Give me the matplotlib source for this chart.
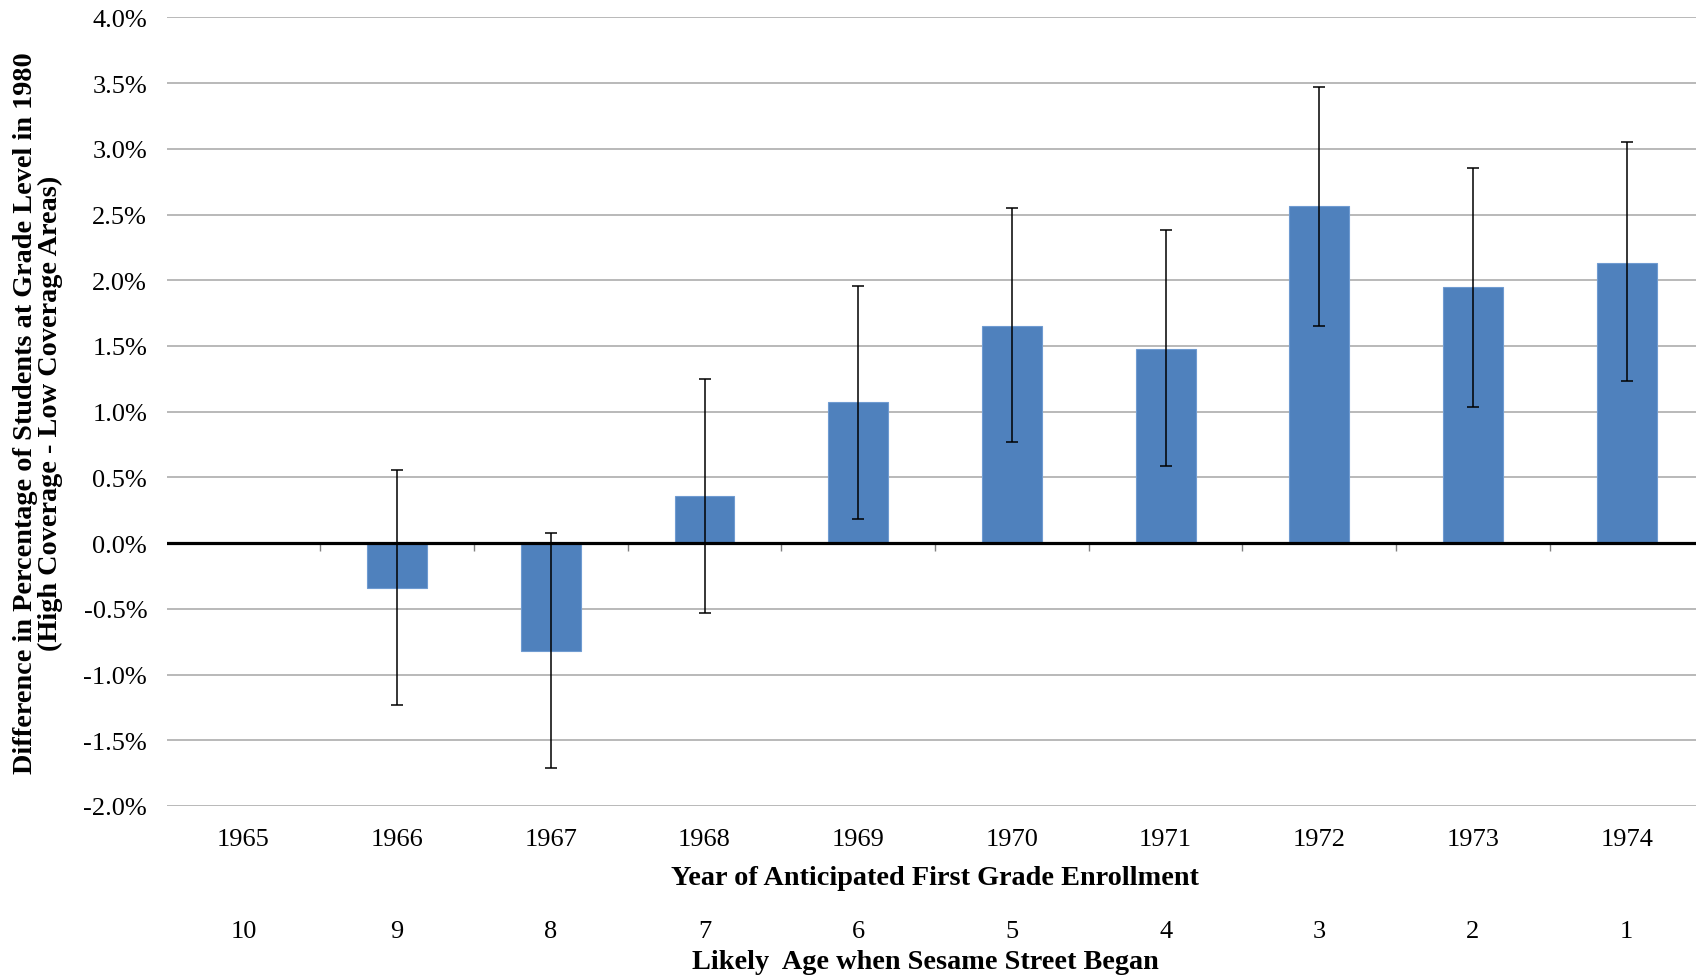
"""Sesame Street coverage: grade-level difference by anticipated first grade year."""
import numpy as np
import matplotlib
matplotlib.use("Agg")
import matplotlib.pyplot as plt
from matplotlib.ticker import FuncFormatter
import matplotlib.transforms as mtransforms

plt.rcParams['font.family'] = ['Liberation Serif', 'DejaVu Serif']

# data (percentage points)
years = ['1965', '1966', '1967', '1968', '1969', '1970', '1971', '1972', '1973', '1974']
ages = ['10', '9', '8', '7', '6', '5', '4', '3', '2', '1']
diff = [0.0, -0.34, -0.82, 0.355, 1.07, 1.655, 1.48, 2.565, 1.945, 2.13]
ci_low = [np.nan, -1.23, -1.71, -0.535, 0.18, 0.77, 0.585, 1.655, 1.035, 1.235]
ci_high = [np.nan, 0.56, 0.075, 1.25, 1.96, 2.55, 2.38, 3.47, 2.855, 3.05]

BAR_COLOR = '#4F81BD'
GRID_COLOR = '#A6A6A6'

fig = plt.figure(figsize=(16.96, 9.78), dpi=100)
W, H = 1696, 978
left, right, top, bottom = 166.6, 1703.5, 18.4, 807
ax = fig.add_axes([left / W, 1 - bottom / H, (right - left) / W, (bottom - top) / H])

x = np.arange(len(years))
vals = np.array(diff)
err = np.vstack([vals - np.array(ci_low), np.array(ci_high) - vals])

ax.bar(x, vals, width=0.39, color=BAR_COLOR, edgecolor='#6F9BD1', linewidth=0.8, zorder=2)
ax.errorbar(x, vals, yerr=err, fmt='none', ecolor='black', elinewidth=1.1,
            capsize=4, capthick=1.1, zorder=4)

# thick zero axis with little ticks between categories
ax.axhline(0, color='black', lw=2.3, zorder=5)
bounds = x[:-1] + 0.5
ax.vlines(bounds, -0.06, 0, color='#808080', lw=1, zorder=3)

ax.set_xlim(-0.5, len(years) - 0.5)
ax.set_ylim(-2.0, 4.0)
ax.set_yticks(np.arange(-2.0, 4.01, 0.5))
ax.yaxis.set_major_formatter(FuncFormatter(lambda v, p: f"{v:.1f}%"))
ax.grid(axis='y', color=GRID_COLOR, lw=1.1, zorder=0)
ax.set_axisbelow(True)
for s in ax.spines.values():
    s.set_visible(False)

ax.set_xticks(x)
ax.set_xticklabels(years)
ax.tick_params(axis='both', length=0, labelsize=19)
ax.tick_params(axis='y', pad=14)
ax.tick_params(axis='x', pad=16)

trans = mtransforms.blended_transform_factory(ax.transData, ax.transAxes)
for xi, a in zip(x, ages):
    ax.text(xi, -0.159, a, transform=trans, ha='center', va='center', fontsize=19)

ax.text(0.5, -0.0905, 'Year of Anticipated First Grade Enrollment', transform=ax.transAxes,
        ha='center', va='center', fontsize=20.3, fontweight='bold')
ax.text(0.494, -0.197, 'Likely  Age when Sesame Street Began', transform=ax.transAxes,
        ha='center', va='center', fontsize=20.3, fontweight='bold')

fig.text(38 / W, 1 - 413 / H,
         'Difference in Percentage of Students at Grade Level in 1980\n(High Coverage - Low Coverage Areas)',
         rotation=90, ha='center', va='center', fontsize=20.3, fontweight='bold', linespacing=1.0)

fig.savefig('out.png', dpi=100)
